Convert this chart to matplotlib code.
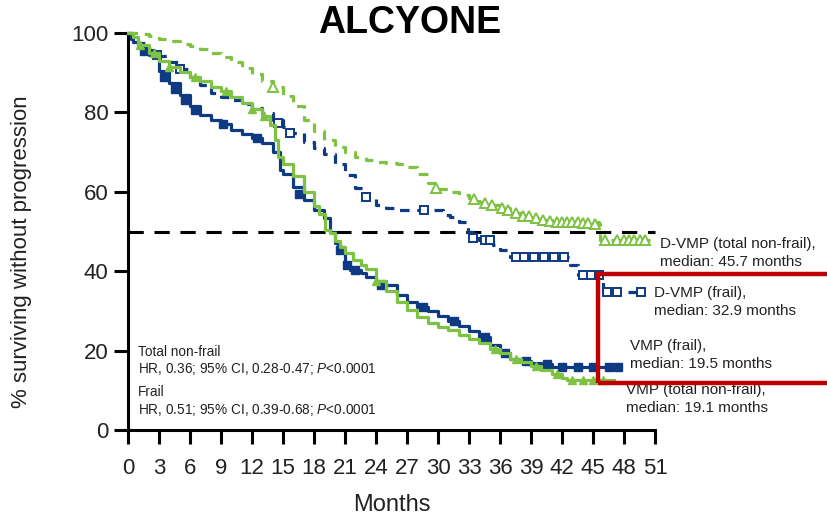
import matplotlib
matplotlib.use("Agg")
import matplotlib.pyplot as plt
from matplotlib import font_manager
from matplotlib.patches import Rectangle

# ---------------- data ----------------
months_ticks = list(range(0, 52, 3))
pct_ticks = [0, 20, 40, 60, 80, 100]

# D-VMP (total non-frail)
dvmp_nf_t = [0, 1, 2, 3, 4, 5, 6, 7, 8, 9, 10, 11, 12, 13, 14, 15, 16, 17, 18, 19, 20,
             21, 22, 23, 24, 25, 26, 27, 28, 29, 30, 31, 32, 33, 34, 35, 36, 37, 38, 39,
             40, 41, 45.6, 45.7, 50.5]
dvmp_nf_s = [100, 99.7, 99.2, 98.6, 97.9, 97.2, 96.6, 96.0, 95.0, 94.0, 92.8, 91.2, 89.6,
             88.0, 86.5, 84.2, 81.6, 78.2, 75.2, 73.0, 71.3, 70.0, 68.8, 68.1, 67.6, 67.3,
             67.0, 66.2, 64.5, 62.3, 60.8, 60.0, 59.3, 58.5, 57.5, 56.7, 56.0, 54.7, 54.0,
             53.4, 52.8, 52.4, 52.0, 47.9, 47.9]
dvmp_nf_cens_t = [14.0, 29.8, 33.5, 34.5, 35.2, 36.2, 36.8, 37.5, 38.2, 38.8, 39.5, 40.2,
                  40.8, 41.5, 42.0, 42.5, 43.0, 43.5, 44.0, 44.5, 45.2, 46.2, 47.3, 48.0,
                  48.5, 49.0, 49.5, 50.0]
dvmp_nf_cens_s = [86.5, 61.0, 58.3, 57.3, 56.7, 56.0, 55.5, 54.7, 54.0, 53.8, 53.4, 52.8,
                  52.6, 52.4, 52.4, 52.4, 52.4, 52.3, 52.2, 52.1, 52.0, 47.9, 47.9, 47.9,
                  47.9, 47.9, 47.9, 47.9]

# D-VMP (frail)
dvmp_f_t = [0, 0.5, 1, 2, 3, 4, 5, 6, 7, 8, 9, 10, 11, 12, 13, 14, 15, 15.7, 17, 18, 19,
            20, 21, 22, 23, 24, 25, 26, 30.5, 31.2, 32, 32.9, 33.4, 34, 35.3, 36, 37, 42.8,
            43.5, 46, 49.6]
dvmp_f_s = [100, 98.5, 97.5, 95.8, 94.3, 92.7, 91.0, 89.0, 86.8, 85.0, 84.0, 83.1, 82.2,
            81.0, 79.8, 78.2, 76.3, 74.8, 72.6, 71.0, 69.5, 67.0, 64.2, 61.0, 58.7, 56.6,
            55.8, 55.4, 54.2, 53.7, 52.4, 50.0, 48.4, 47.8, 46.6, 45.3, 43.6, 41.6, 39.0,
            34.8, 34.8]
dvmp_f_cens_t = [2.8, 5.0, 14.5, 15.7, 23.0, 28.6, 33.4, 34.5, 35.0, 37.5, 38.3, 39.3,
                 40.3, 41.2, 42.2, 44.0, 44.8, 45.6, 46.4, 47.3, 49.6]
dvmp_f_cens_s = [94.5, 91.0, 77.3, 74.8, 58.7, 55.4, 48.4, 47.8, 47.8, 43.6, 43.6, 43.6,
                 43.6, 43.6, 43.6, 39.0, 39.0, 39.0, 34.8, 34.8, 34.8]

# VMP (frail)
vmp_f_t = [0, 0.3, 0.5, 1, 2, 3, 4, 5, 6, 7, 8, 9, 10, 11, 12, 13, 14, 14.7, 15, 16, 17,
           18, 19, 19.5, 20, 20.3, 21, 21.5, 22.5, 23, 24, 25, 26, 27, 28, 29, 30, 31, 32,
           33, 34, 35, 36, 37, 38, 39, 40, 41, 47.6]
vmp_f_s = [100, 98.5, 97.7, 96.5, 94.5, 90.5, 87.5, 84.5, 81.5, 79.3, 78.0, 77.0, 75.5,
           74.5, 73.5, 72.3, 70.0, 65.5, 64.5, 61.2, 58.0, 55.5, 53.5, 50.0, 47.0, 45.3,
           41.5, 40.3, 39.5, 38.5, 37.5, 36.5, 34.0, 32.2, 31.0, 30.0, 28.8, 27.5, 26.2,
           25.0, 23.5, 21.5, 19.4, 17.8, 17.3, 17.0, 16.5, 15.9, 15.9]
vmp_f_cens_t = [1.5, 3.5, 4.5, 5.5, 6.5, 9.2, 12.5, 16.5, 20.5, 21.2, 22.0, 24.5, 28.5,
                31.5, 34.5, 36.5, 38.5, 40.5, 42.0, 43.5, 45.0, 46.5, 47.4]
vmp_f_cens_s = [95.5, 89.0, 86.0, 83.0, 80.5, 77.0, 73.5, 59.5, 45.3, 41.5, 40.3, 36.5,
                31.0, 27.5, 23.5, 19.4, 17.3, 16.5, 15.9, 15.9, 15.9, 15.9, 15.9]

# VMP (total non-frail)
vmp_nf_t = [0, 0.5, 1, 2, 3, 4, 5, 6, 7, 8, 9, 10, 11, 12, 13, 13.7, 14.2, 14.5, 15, 16,
            17, 18, 18.5, 19.1, 19.5, 20, 20.5, 21, 21.8, 22.5, 23, 24, 25, 26, 27, 28, 29,
            30, 31, 32, 33, 34, 35, 36, 37, 38, 39, 40, 41, 42, 42.5, 47.0]
vmp_nf_s = [100, 99.0, 97.0, 95.0, 93.0, 91.5, 90.3, 89.0, 87.8, 86.5, 85.5, 84.0, 82.3,
            80.8, 79.0, 76.8, 73.0, 68.8, 67.0, 64.0, 60.0, 56.5, 54.5, 50.5, 49.5, 47.5,
            46.0, 44.5, 42.8, 41.5, 40.5, 37.5, 35.0, 32.2, 30.2, 28.5, 27.0, 26.0, 25.2,
            24.0, 23.0, 22.0, 20.5, 19.4, 18.0, 17.1, 16.0, 15.0, 14.0, 13.0, 12.6, 12.6]
vmp_nf_cens_t = [1.2, 2.5, 4.0, 6.5, 9.5, 12.0, 13.2, 24.0, 35.5, 37.5, 39.5, 41.5, 43.0,
                 44.0, 45.0, 46.0]
vmp_nf_cens_s = [97.0, 95.0, 91.5, 89.0, 85.5, 80.8, 79.0, 37.5, 20.5, 18.0, 16.0, 14.0,
                 12.6, 12.6, 12.6, 12.6]

median_level = 50

title_text = "ALCYONE"
xlabel_text = "Months"
ylabel_text = "% surviving without progression"
hr_lines = ["Total non-frail",
            "HR, 0.36; 95% CI, 0.28-0.47; $\\mathit{P}$<0.0001",
            "Frail",
            "HR, 0.51; 95% CI, 0.39-0.68; $\\mathit{P}$<0.0001"]
lab_dvmp_nf = "D-VMP (total non-frail),\nmedian: 45.7 months"
lab_dvmp_f = "D-VMP (frail),\nmedian: 32.9 months"
lab_vmp_f = "VMP (frail),\nmedian: 19.5 months"
lab_vmp_nf = "VMP (total non-frail),\nmedian: 19.1 months"

# ---------------- style ----------------
names = {f.name for f in font_manager.fontManager.ttflist}
narrow = "Liberation Sans Narrow" if "Liberation Sans Narrow" in names else "Liberation Sans"
plt.rcParams['font.family'] = [narrow, 'Liberation Sans', 'DejaVu Sans']
plt.rcParams['mathtext.fontset'] = 'custom'
plt.rcParams['mathtext.rm'] = narrow
plt.rcParams['mathtext.it'] = narrow + ':italic'

GREEN = '#7DC242'
BLUE = '#0E3A84'
TXT = '#222222'

fig = plt.figure(figsize=(8.27, 5.19), dpi=100)
ax = fig.add_axes([128 / 827, 1 - 430 / 519, (655 - 128) / 827, (430 - 33) / 519])

ax.set_xlim(0, 51)
ax.set_ylim(0, 100)

# median line
ax.plot([0, 51], [median_level, median_level], color='black', lw=2.2,
        dashes=(5, 3.5), zorder=1, clip_on=False)

# curves
ax.plot(vmp_f_t, vmp_f_s, drawstyle='steps-post', color=BLUE, lw=2.3, zorder=3, clip_on=False)
ax.plot(vmp_f_cens_t, vmp_f_cens_s, ls='none', marker='s', ms=6, color=BLUE, zorder=3,
        clip_on=False)
ax.plot(vmp_nf_t, vmp_nf_s, drawstyle='steps-post', color=GREEN, lw=2.3, zorder=4, clip_on=False)
ax.plot(vmp_nf_cens_t, vmp_nf_cens_s, ls='none', marker='^', ms=6, color=GREEN, zorder=4,
        clip_on=False)
ax.plot(dvmp_f_t, dvmp_f_s, drawstyle='steps-post', color=BLUE, lw=2.3, dashes=(3.0, 2.4),
        zorder=3, clip_on=False)
ax.plot(dvmp_f_cens_t, dvmp_f_cens_s, ls='none', marker='s', ms=6, mfc='white', mec=BLUE,
        mew=1.4, zorder=3, clip_on=False)
ax.plot(dvmp_nf_t, dvmp_nf_s, drawstyle='steps-post', color=GREEN, lw=2.3, dashes=(3.0, 2.4),
        zorder=3, clip_on=False)
ax.plot(dvmp_nf_cens_t, dvmp_nf_cens_s, ls='none', marker='^', ms=7, mfc='white', mec=GREEN,
        mew=1.4, zorder=3, clip_on=False)

# axes styling
for s in ['top', 'right']:
    ax.spines[s].set_visible(False)
for s in ['left', 'bottom']:
    ax.spines[s].set_linewidth(2.2)
ax.set_xticks(months_ticks)
ax.set_yticks(pct_ticks)
ax.tick_params(axis='both', direction='out', length=10, width=2.2, labelsize=16,
               labelcolor=TXT)
ax.tick_params(axis='x', pad=10)
ax.tick_params(axis='y', pad=4)

fig.text(392 / 827, 1 - 505 / 519, xlabel_text, fontsize=17, ha='center', va='center',
         color=TXT)
fig.text(22 / 827, 1 - 252 / 519, ylabel_text, fontsize=16, ha='center', va='center',
         rotation=90, color=TXT)

fig.text(410 / 827, 1 - 23 / 519, title_text, fontsize=27, fontweight='bold',
         family=['Liberation Sans', 'DejaVu Sans'], ha='center', va='center')

# HR text
hr_y = [352, 369, 392, 410]
for line, y in zip(hr_lines, hr_y):
    fig.text(138 / 827, 1 - y / 519, line, fontsize=9.8, ha='left', va='center', color=TXT)

# right-side labels
lab_kw = dict(fontsize=11, ha='left', va='center', linespacing=1.35, color=TXT)
fig.text(660 / 827, 1 - 253 / 519, lab_dvmp_nf, **lab_kw)
fig.text(654 / 827, 1 - 302 / 519, lab_dvmp_f, **lab_kw)
fig.text(630 / 827, 1 - 355 / 519, lab_vmp_f, **lab_kw)
fig.text(626 / 827, 1 - 399 / 519, lab_vmp_nf, **lab_kw)

# red highlight box
fig.add_artist(Rectangle((598 / 827, 1 - 383 / 519), 240 / 827, 109 / 519,
                         transform=fig.transFigure, fill=False, ec='#C00000', lw=3.2,
                         zorder=10))

fig.savefig('out.png', dpi=100)
